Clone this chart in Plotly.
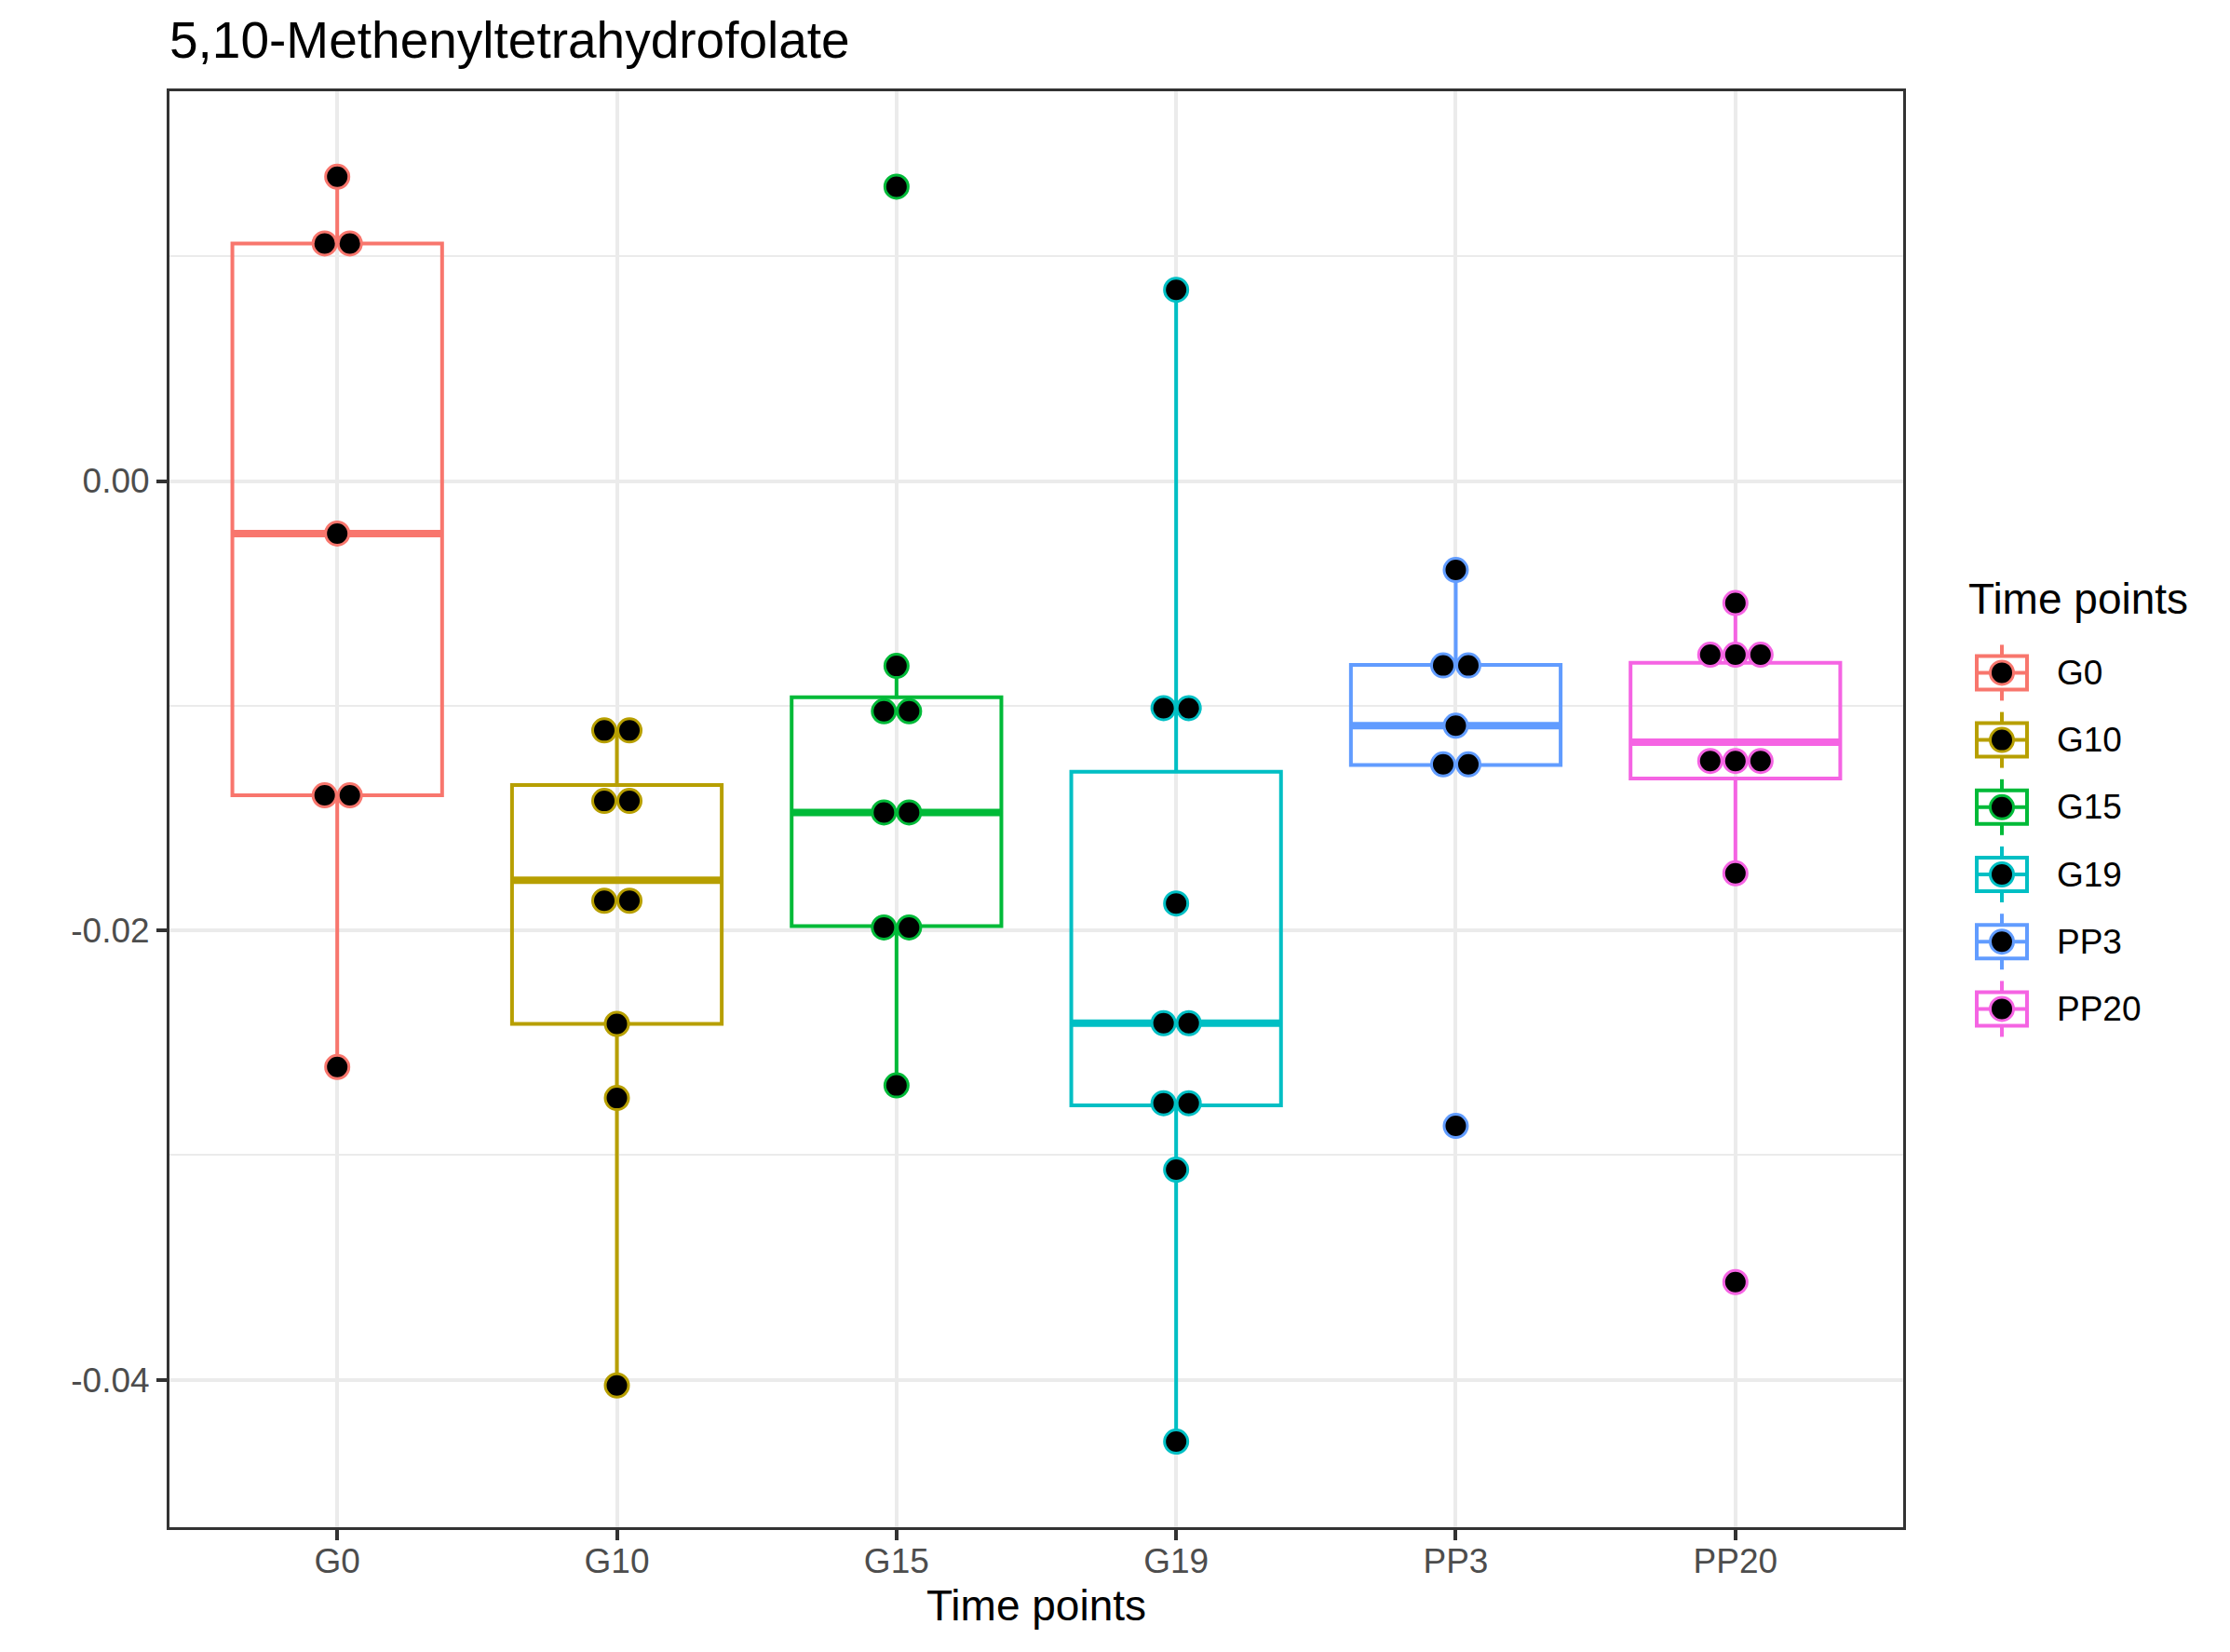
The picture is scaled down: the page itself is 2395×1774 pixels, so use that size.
import plotly.graph_objects as go

# ---------------- data ----------------
categories = ["G0", "G10", "G15", "G19", "PP3", "PP20"]
colors = ["#F8766D", "#B79F00", "#00BA38", "#00BFC4", "#619CFF", "#F564E3"]

dots_G0 = [0.01354, 0.01057, 0.01057, -0.00234, -0.01399, -0.01399, -0.02608]
dots_G10 = [-0.01110, -0.01110, -0.01424, -0.01424, -0.01868, -0.01868, -0.02416, -0.02746, -0.04025]
dots_G15 = [0.01310, -0.00823, -0.01025, -0.01025, -0.01475, -0.01475, -0.01987, -0.01987, -0.02690]
dots_G19 = [0.00851, -0.01011, -0.01011, -0.01880, -0.02413, -0.02413, -0.02769, -0.02769, -0.03065, -0.04275]
dots_PP3 = [-0.00396, -0.00821, -0.00821, -0.01089, -0.01261, -0.01261, -0.02870]
dots_PP20 = [-0.00543, -0.00773, -0.00773, -0.00773, -0.01246, -0.01246, -0.01246, -0.01746, -0.03565]
dots = [dots_G0, dots_G10, dots_G15, dots_G19, dots_PP3, dots_PP20]

box_q1 = [-0.01399, -0.02416, -0.01981, -0.02779, -0.01264, -0.01324]
box_median = [-0.00234, -0.01777, -0.01475, -0.02413, -0.01089, -0.01162]
box_q3 = [0.01057, -0.01353, -0.00962, -0.01294, -0.00818, -0.00809]
box_lower = [-0.02608, -0.04025, -0.02690, -0.04275, -0.01264, -0.01746]
box_upper = [0.01354, -0.01110, -0.00823, 0.00851, -0.00396, -0.00543]

y_tickvals = [-0.04, -0.02, 0.00]
y_ticktext = ["-0.04", "-0.02", "0.00"]
y_minorvals = [-0.03, -0.01, 0.01]

title_text = "5,10-Methenyltetrahydrofolate"
x_title = "Time points"
legend_title = "Time points"

# ---------------- layout constants (page pixel coordinates) ----------------
PAGE_W, PAGE_H = 2395, 1774
OFF = 8                      # default body margin of the html page
W, H = PAGE_W - OFF, PAGE_H - OFF
PX0, PX1, PY0, PY1 = 182, 2044, 98, 1640   # panel edges on the page
ML, MT = PX0 - OFF, PY0 - OFF
MR, MB = PAGE_W - PX1, PAGE_H - PY1
PW, PH = PX1 - PX0, PY1 - PY0
BOX_W = 0.75
DOT_STEP = 0.09
FONT = "Liberation Sans, Arial, Helvetica, sans-serif"


def px2x(X):
    return (X - PX0) / PW


def px2y(Y):
    return (PY1 - Y) / PH


fig = go.Figure()

# boxes
for i, cat in enumerate(categories):
    fig.add_trace(go.Box(
        x=[i], q1=[box_q1[i]], median=[box_median[i]], q3=[box_q3[i]],
        lowerfence=[box_lower[i]], upperfence=[box_upper[i]],
        width=BOX_W, whiskerwidth=0, boxpoints=False,
        line=dict(color=colors[i], width=4), fillcolor="rgba(255,255,255,0)",
        showlegend=False, hoverinfo="skip", name=cat,
    ))
    # thicker median
    fig.add_trace(go.Scatter(
        x=[i - BOX_W / 2, i + BOX_W / 2], y=[box_median[i], box_median[i]],
        mode="lines", line=dict(color=colors[i], width=8),
        showlegend=False, hoverinfo="skip",
    ))

# dots (stacked side by side when equal)
for i, vals in enumerate(dots):
    xs, ys = [], []
    j = 0
    while j < len(vals):
        k = j
        while k < len(vals) and vals[k] == vals[j]:
            k += 1
        m = k - j
        for t in range(m):
            xs.append(i + (t - (m - 1) / 2) * DOT_STEP)
            ys.append(vals[j])
        j = k
    fig.add_trace(go.Scatter(
        x=xs, y=ys, mode="markers",
        marker=dict(size=25, color="black", line=dict(color=colors[i], width=3)),
        showlegend=False, hoverinfo="skip",
    ))

# ---------------- manual legend ----------------
shapes = []
annotations = []
annotations.append(dict(
    text=legend_title, xref="paper", yref="paper", x=px2x(2112), y=px2y(643),
    xanchor="left", yanchor="middle", showarrow=False,
    font=dict(size=46, color="black", family=FONT),
))
for i, cat in enumerate(categories):
    col = colors[i]
    cx, cy = 2150, 722.4 + 72.2 * i
    ax, ay = px2x(cx), px2y(cy)
    base = dict(xref="paper", yref="paper", xsizemode="pixel", ysizemode="pixel",
                xanchor=ax, yanchor=ay)
    shapes.append(dict(type="line", x0=0, x1=0, y0=18, y1=30,
                       line=dict(color=col, width=4), **base))
    shapes.append(dict(type="line", x0=0, x1=0, y0=-18, y1=-30,
                       line=dict(color=col, width=4), **base))
    shapes.append(dict(type="rect", x0=-27, x1=27, y0=-18, y1=18,
                       line=dict(color=col, width=4), fillcolor="white", **base))
    shapes.append(dict(type="line", x0=-27, x1=27, y0=0, y1=0,
                       line=dict(color=col, width=4), **base))
    shapes.append(dict(type="circle", x0=-12.5, x1=12.5, y0=-12.5, y1=12.5,
                       line=dict(color=col, width=3), fillcolor="black", **base))
    annotations.append(dict(
        text=cat, xref="paper", yref="paper", x=px2x(2207), y=ay,
        xanchor="left", yanchor="middle", showarrow=False,
        font=dict(size=37, color="black", family=FONT),
    ))

fig.update_layout(
    width=W, height=H,
    margin=dict(l=ML, r=MR, t=MT, b=MB, pad=0),
    paper_bgcolor="white", plot_bgcolor="white",
    font=dict(family=FONT, color="black"),
    boxmode="overlay",
    showlegend=False,
    title=dict(text=title_text, x=0, xref="paper", xanchor="left",
               y=1 - (43 - OFF) / H, yref="container", yanchor="middle",
               font=dict(size=55, color="black", family=FONT)),
    xaxis=dict(
        range=[-0.6, 5.6], tickmode="array", tickvals=list(range(len(categories))),
        ticktext=categories, tickfont=dict(size=37, color="#4D4D4D"),
        showgrid=True, gridcolor="#EBEBEB", gridwidth=4, zeroline=False,
        showline=True, mirror=True, linecolor="#333333", linewidth=3,
        ticks="outside", ticklen=11, tickwidth=4, tickcolor="#333333",
        ticklabelstandoff=-9,
        title=dict(text=x_title, font=dict(size=46, color="black"), standoff=12),
    ),
    yaxis=dict(
        range=[-0.04656, 0.017344], tickmode="array", tickvals=y_tickvals,
        ticktext=y_ticktext, tickfont=dict(size=37, color="#4D4D4D"),
        showgrid=True, gridcolor="#EBEBEB", gridwidth=4, zeroline=False,
        showline=True, mirror=True, linecolor="#333333", linewidth=3,
        ticks="outside", ticklen=11, tickwidth=4, tickcolor="#333333",
        minor=dict(tickmode="array", tickvals=y_minorvals, showgrid=True,
                   gridcolor="#EBEBEB", gridwidth=2, ticks=""),
    ),
    shapes=shapes,
    annotations=annotations,
)

fig.write_html("out.html")
